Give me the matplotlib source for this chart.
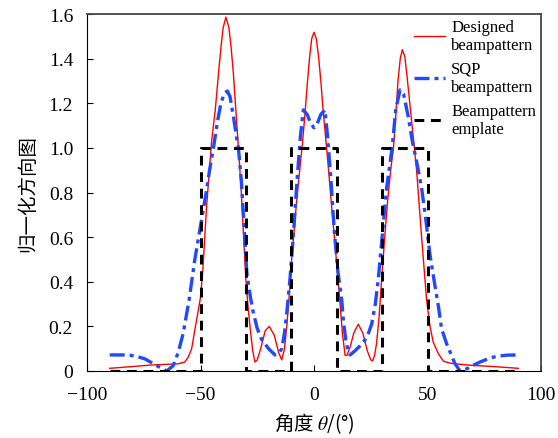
import matplotlib
matplotlib.use("Agg")
import matplotlib.pyplot as plt

# ---------------- DATA ----------------
# designed beampattern (red)
designed_deg = [-90, -80, -71.5, -65, -60, -57, -55.5, -53.9, -52.4, -51, -50, -49, -47.3,
                -45.1, -43.5, -42.1, -41, -40, -38.8, -37.5, -36.5, -35.5, -34.5, -33.3,
                -32, -31, -30, -29, -28.2, -27, -26, -25, -23.5, -21.5, -19.7, -17.5,
                -15.5, -14.2, -13, -12, -11, -10, -9, -8, -7, -6, -5, -4, -3, -2, -1, 0,
                1, 2, 3, 4, 5, 6, 7, 8, 9, 10, 10.6, 11.5, 12.5, 13.7, 14.5, 16, 17.5,
                19.5, 21.5, 23.5, 25, 25.8, 26.7, 27.5, 28.5, 29.8, 31, 32.5, 34, 35, 36,
                37, 38, 38.9, 40, 41, 42, 43, 44.2, 45.2, 47.4, 49.6, 51.1, 52.5, 54.8,
                57, 60, 64.3, 70, 79, 90]
designed_val = [0.012, 0.02, 0.027, 0.03, 0.032, 0.04, 0.06, 0.10, 0.19, 0.27, 0.33, 0.45, 0.74,
                1.03, 1.17, 1.33, 1.45, 1.54, 1.586, 1.54, 1.45, 1.33, 1.18, 1.0,
                0.8, 0.6, 0.41, 0.28, 0.2, 0.09, 0.04, 0.05, 0.10, 0.18, 0.20, 0.16,
                0.08, 0.05, 0.10, 0.20, 0.33, 0.48, 0.60, 0.72, 0.83, 0.93, 1.03, 1.15, 1.28, 1.40, 1.49, 1.518,
                1.49, 1.41, 1.30, 1.17, 1.06, 0.95, 0.83, 0.71, 0.60, 0.48, 0.41, 0.30, 0.17, 0.07, 0.07, 0.11, 0.17,
                0.21, 0.17, 0.09, 0.05, 0.045, 0.07, 0.12, 0.22, 0.41, 0.58, 0.77, 0.92, 1.0, 1.14,
                1.30, 1.40, 1.44, 1.41, 1.32, 1.22, 1.12, 1.0, 0.9, 0.6, 0.32, 0.2, 0.13, 0.077,
                0.044, 0.035, 0.03, 0.025, 0.02, 0.012]

# SQP beampattern (blue)
sqp_deg = [-90, -81.8, -78, -74.4, -69.3, -64.9, -62, -59.8, -57.6, -55, -52.5, -50, -47.5,
           -46, -44.3, -42.5, -41, -39.5, -38.2, -37, -35.5, -34, -33.3, -32, -30.5, -29.6,
           -28, -26.7, -25, -23, -20, -17.2, -15.5, -14.2, -13, -12, -10.6, -9, -7.5, -6,
           -4.7, -3, -1.5, 0, 1.5, 3, 4.8, 6, 7.5, 9, 10.5, 12.2, 13, 14, 15, 15.9, 18, 20,
           22.5, 24, 25.4, 27, 28.3, 30, 32, 34.4, 36, 37.9, 39.5, 41.5, 43.5, 45, 47.4, 49,
           51.1, 53, 54.8, 56.2, 58.5, 60, 62, 64.3, 67.3, 70, 73.1, 77, 80.5, 85, 90]
sqp_val = [0.072, 0.072, 0.065, 0.054, 0.024, 0.0, 0.024, 0.084, 0.17, 0.32, 0.5, 0.65, 0.8,
           0.9, 1.0, 1.12, 1.2, 1.245, 1.255, 1.23, 1.14, 1.04, 1.0, 0.85, 0.6, 0.44,
           0.33, 0.26, 0.19, 0.14, 0.10, 0.072, 0.08, 0.10, 0.17, 0.26, 0.41, 0.62, 0.85, 1.05,
           1.17, 1.15, 1.11, 1.09, 1.11, 1.15, 1.17, 1.05, 0.85, 0.62, 0.45, 0.32, 0.22, 0.14, 0.09, 0.072, 0.09, 0.11,
           0.14, 0.17, 0.21, 0.30, 0.41, 0.6, 0.82, 1.0, 1.17, 1.26, 1.24, 1.14, 1.02, 0.95, 0.82, 0.7,
           0.52, 0.4, 0.29, 0.19, 0.12, 0.084, 0.035, 0.0, 0.01, 0.025, 0.04, 0.056, 0.066, 0.071, 0.072]

# beampattern template (black dashed)
tmpl_deg = [-90, -50, -50, -30, -30, -10, -10, 10, 10, 30, 30, 50, 50, 90]
tmpl_val = [0, 0, 1, 1, 0, 0, 1, 1, 0, 0, 1, 1, 0, 0]

labels = ["Designed\nbeampattern", "SQP\nbeampattern", "Beampattern\nemplate"]
xticks = [-100, -50, 0, 50, 100]
yticks = [0, 0.2, 0.4, 0.6, 0.8, 1.0, 1.2, 1.4, 1.6]
ytick_labels = ["0", "0.2", "0.4", "0.6", "0.8", "1.0", "1.2", "1.4", "1.6"]
# --------------------------------------

plt.rcParams["font.family"] = ["Liberation Serif", "Noto Sans CJK SC"]
plt.rcParams["mathtext.fontset"] = "stix"
plt.rcParams["axes.unicode_minus"] = True

fig = plt.figure(figsize=(5.58, 4.39), dpi=100)
ax = fig.add_axes([87 / 558, 1 - 372 / 439, 454 / 558, 357 / 439])

ax.plot(designed_deg, designed_val, color="red", lw=1.0, label=labels[0])
ax.plot(sqp_deg, sqp_val, color="#1f48ff", lw=2.4, ls=(0, (4.5, 1.5, 1.2, 1.5)), label=labels[1])
ax.plot(tmpl_deg, tmpl_val, color="black", lw=2.2, ls=(0, (3.2, 2.2)), label=labels[2])

ax.set_xlim(-100, 100)
ax.set_ylim(0, 1.6)
ax.set_xticks(xticks)
ax.set_yticks(yticks)
ax.set_yticklabels(ytick_labels)
ax.tick_params(direction="in", length=4, labelsize=14, top=False, right=False)
ax.tick_params(axis="x", pad=11)
ax.tick_params(axis="y", pad=10)

for side in ["top", "right"]:
    ax.spines[side].set_color("#444444")
    ax.spines[side].set_linewidth(1.3)

# x label: CJK part needs a CJK font inside mathtext, theta from stix italic
ax.set_xlabel("角度 $\\theta$/(°)", fontsize=14, labelpad=5, family="Noto Sans CJK SC")
ax.set_ylabel("归一化方向图", fontsize=14, labelpad=8)

ax.legend(loc="upper right", frameon=False, fontsize=12, handlelength=1.9,
          handletextpad=0.35, labelspacing=0.45, borderpad=0.3, borderaxespad=0.0)

fig.savefig("out.png", dpi=100)
plt.close(fig)
